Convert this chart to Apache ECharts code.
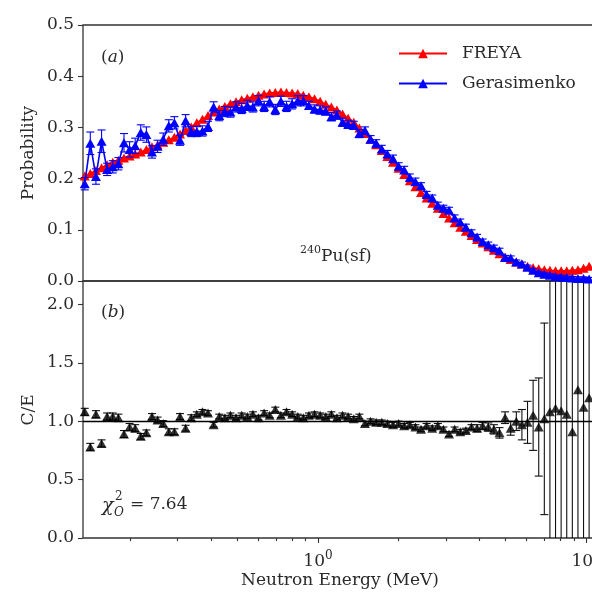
<!DOCTYPE html>
<html><head><meta charset="utf-8">
<script src="https://cdn.jsdelivr.net/npm/echarts@6/dist/echarts.min.js"></script>
<style>html,body{margin:0;padding:0;background:#fff}#c{width:592px;height:598px}</style>
</head><body><div id="c"></div>
<script>
const energy = [0.135,0.1416,0.1486,0.156,0.1636,0.1717,0.1802,0.1891,0.1984,0.2082,
0.2184,0.2292,0.2405,0.2523,0.2648,0.2778,0.2915,0.3059,0.321,0.3368,
0.3534,0.3709,0.3891,0.4083,0.4285,0.4496,0.4718,0.495,0.5194,0.5451,
0.572,0.6002,0.6298,0.6607,0.6934,0.7275,0.7634,0.8011,0.8406,0.882,
0.9254,0.971,1.019,1.069,1.122,1.177,1.235,1.296,1.36,1.427,
1.497,1.571,1.649,1.73,1.815,1.905,1.999,2.097,2.201,2.309,
2.423,2.542,2.668,2.799,2.937,3.082,3.234,3.394,3.561,3.737,
3.921,4.114,4.317,4.529,4.753,4.987,5.233,5.491,5.762,6.046,
6.344,6.657,6.985,7.328,7.69,8.069,8.467,8.884,9.322,9.781,10.26];
const freya = [0.205,0.210,0.216,0.221,0.227,0.232,0.236,0.240,0.244,0.248,
0.252,0.257,0.262,0.266,0.271,0.276,0.281,0.287,0.294,0.301,
0.309,0.316,0.323,0.330,0.336,0.341,0.346,0.350,0.354,0.357,
0.360,0.363,0.365,0.367,0.368,0.369,0.368,0.367,0.366,0.363,
0.360,0.356,0.351,0.345,0.340,0.334,0.326,0.318,0.310,0.299,
0.288,0.277,0.266,0.255,0.243,0.232,0.220,0.208,0.196,0.184,
0.173,0.162,0.152,0.142,0.132,0.123,0.114,0.105,0.097,0.089,
0.081,0.074,0.067,0.060,0.053,0.047,0.042,0.037,0.033,0.029,
0.026,0.024,0.022,0.021,0.020,0.020,0.020,0.021,0.022,0.025,0.029];
const gerasimenko = [0.190,0.269,0.204,0.273,0.218,0.223,0.229,0.270,0.257,0.264,
0.290,0.286,0.252,0.263,0.277,0.303,0.309,0.275,0.313,0.292,
0.292,0.293,0.302,0.340,0.323,0.331,0.330,0.340,0.337,0.343,
0.340,0.352,0.341,0.350,0.335,0.351,0.341,0.346,0.352,0.352,
0.343,0.336,0.334,0.332,0.321,0.324,0.310,0.306,0.304,0.288,
0.294,0.277,0.269,0.258,0.248,0.239,0.224,0.217,0.202,0.194,
0.186,0.169,0.162,0.148,0.142,0.138,0.123,0.115,0.105,0.094,
0.086,0.077,0.071,0.065,0.059,0.046,0.045,0.037,0.033,0.027,
0.021,0.016,0.013,0.011,0.009,0.008,0.007,0.006,0.005,0.005,0.004];
const gerasimenkoErr = [0.012,0.022,0.015,0.022,0.012,0.012,0.012,0.018,0.015,0.015,
0.015,0.015,0.012,0.012,0.012,0.012,0.012,0.010,0.012,0.010,
0.010,0.010,0.010,0.010,0.010,0.010,0.010,0.010,0.010,0.010,
0.010,0.010,0.010,0.010,0.010,0.010,0.010,0.010,0.010,0.010,
0.008,0.008,0.008,0.008,0.008,0.008,0.008,0.008,0.008,0.008,
0.007,0.007,0.007,0.007,0.007,0.007,0.007,0.007,0.007,0.007,
0.006,0.006,0.006,0.006,0.006,0.006,0.006,0.006,0.006,0.006,
0.005,0.005,0.005,0.005,0.005,0.004,0.004,0.004,0.004,0.004,
0.003,0.003,0.003,0.003,0.003,0.003,0.003,0.003,0.003,0.003,0.003];
const ratio = [1.08,0.78,1.06,0.81,1.04,1.04,1.03,0.89,0.95,0.94,
0.87,0.90,1.04,1.01,0.98,0.91,0.91,1.04,0.94,1.03,
1.06,1.08,1.07,0.97,1.04,1.03,1.05,1.03,1.05,1.04,
1.06,1.03,1.07,1.05,1.10,1.05,1.08,1.06,1.04,1.03,
1.05,1.06,1.05,1.04,1.06,1.03,1.05,1.04,1.02,1.04,
0.98,1.00,0.99,0.99,0.98,0.97,0.98,0.96,0.97,0.95,
0.93,0.96,0.94,0.96,0.93,0.89,0.93,0.91,0.92,0.95,
0.94,0.96,0.95,0.93,0.90,1.03,0.94,1.00,0.97,0.99,
1.05,0.95,1.02,1.08,1.11,1.09,1.06,0.91,1.27,1.12,1.20];
const ratioErr = [0.03,0.03,0.03,0.03,0.03,0.03,0.03,0.03,0.03,0.03,
0.025,0.025,0.025,0.025,0.025,0.025,0.025,0.025,0.025,0.025,
0.02,0.02,0.02,0.02,0.02,0.02,0.02,0.02,0.02,0.02,
0.02,0.02,0.02,0.02,0.02,0.02,0.02,0.02,0.02,0.02,
0.02,0.02,0.02,0.02,0.02,0.02,0.02,0.02,0.02,0.02,
0.02,0.02,0.02,0.02,0.02,0.02,0.02,0.02,0.02,0.02,
0.02,0.02,0.02,0.02,0.02,0.02,0.02,0.02,0.02,0.02,
0.03,0.03,0.035,0.04,0.045,0.05,0.06,0.08,0.13,0.18,
0.30,0.42,0.82,5,5,5,5,5,5,5,5];
const ratioTicks = [0, 0.5, 1.0, 1.5, 2.0];
const xMajorTicks = [1, 10];
const xMinorTicks = [0.2,0.3,0.4,0.5,0.6,0.7,0.8,0.9,2,3,4,5,6,7,8,9];
const xMin = 0.133, xMax = 10.7;
const probRange = [0, 0.5], ratioRange = [0, 2.2];

const FONT = 'DejaVu Serif';
const TXT = '#2a2a2a';
const chart = echarts.init(document.getElementById('c'), null, {renderer:'canvas'});

function errRender(color, yLo, yHi, capW) {
  return function (params, api) {
    const x = api.value(0), y = api.value(1), e = api.value(2);
    const lo = Math.max(y - e, yLo), hi = Math.min(y + e, yHi);
    const pHi = api.coord([x, hi]), pLo = api.coord([x, lo]);
    const st = {stroke: color, lineWidth: 1.1};
    const ch = [{type:'line', shape:{x1:pHi[0], y1:pHi[1], x2:pLo[0], y2:pLo[1]}, style: st}];
    if (y + e <= yHi) ch.push({type:'line', shape:{x1:pHi[0]-capW, y1:pHi[1], x2:pHi[0]+capW, y2:pHi[1]}, style: st});
    if (y - e >= yLo) ch.push({type:'line', shape:{x1:pLo[0]-capW, y1:pLo[1], x2:pLo[0]+capW, y2:pLo[1]}, style: st});
    return {type:'group', children: ch};
  };
}

const freyaData = energy.map((e,i)=>[e, freya[i]]);
const gerData = energy.map((e,i)=>[e, gerasimenko[i]]);
const gerErrData = energy.map((e,i)=>[e, gerasimenko[i], gerasimenkoErr[i]]);
const ratioData = energy.map((e,i)=>[e, ratio[i]]);
const ratioErrData = energy.map((e,i)=>[e, ratio[i], ratioErr[i]]);

const labelStyle = {fontFamily: FONT, fontSize: 17, color: TXT};
const axisTickStyle = {color:'#333', width:1.1};

chart.setOption({
  animation: false,
  backgroundColor: '#fff',
  grid: [
    {left: 83, top: 25, width: 511, height: 256, outerBoundsMode: 'none', containLabel: false, show: true, borderColor: '#333', borderWidth: 1.3, backgroundColor: 'transparent'},
    {left: 83, top: 281, width: 511, height: 257, outerBoundsMode: 'none', containLabel: false, show: true, borderColor: '#333', borderWidth: 1.3, backgroundColor: 'transparent'}
  ],
  xAxis: [
    {type:'log', gridIndex:0, min:xMin, max:xMax, axisLine:{show:false}, axisTick:{show:false}, axisLabel:{show:false}, splitLine:{show:false}},
    {type:'log', gridIndex:1, min:xMin, max:xMax, position:'bottom', axisLine:{show:false}, splitLine:{show:false},
      axisTick:{show:true, customValues:xMajorTicks, length:5, lineStyle:axisTickStyle},
      axisLabel:{show:true, customValues:xMajorTicks, margin:12, hideOverlap:false,
        formatter: function(v){ const ex = Math.round(Math.log10(v)); return '{b|10}{s|' + ex + '}'; },
        rich:{b:{fontFamily:FONT, fontSize:17, color:TXT, verticalAlign:'bottom', lineHeight:20}, s:{fontFamily:FONT, fontSize:12, color:TXT, verticalAlign:'top', lineHeight:20}}}},
    {type:'log', gridIndex:1, min:xMin, max:xMax, position:'bottom', offset:0, axisLine:{show:false}, splitLine:{show:false},
      axisTick:{show:true, customValues:xMinorTicks, length:3, lineStyle:axisTickStyle}, axisLabel:{show:false}}
  ],
  yAxis: [
    {type:'value', gridIndex:0, min:probRange[0], max:probRange[1], interval:0.1, axisLine:{show:false}, splitLine:{show:false},
      axisTick:{show:true, length:5, lineStyle:axisTickStyle},
      axisLabel:Object.assign({margin:9, formatter: v => v.toFixed(1)}, labelStyle)},
    {type:'value', gridIndex:1, min:ratioRange[0], max:ratioRange[1], interval:0.5, axisLine:{show:false}, splitLine:{show:false},
      axisTick:{show:true, length:5, lineStyle:axisTickStyle},
      axisLabel:Object.assign({margin:9, showMaxLabel:false, formatter: v => (ratioTicks.indexOf(Math.round(v*10)/10) >= 0 ? v.toFixed(1) : '')}, labelStyle)}
  ],
  legend: {
    data: ['FREYA', 'Gerasimenko'], orient:'vertical', left: 393, top: 40, itemWidth: 48, itemHeight: 12, itemGap: 13,
    textStyle: {fontFamily: FONT, fontSize: 17, color: TXT, padding:[0,0,0,10]}
  },
  series: [
    {name:'FREYA', type:'line', xAxisIndex:0, yAxisIndex:0, data:freyaData, symbol:'triangle', symbolSize:[10,9],
      itemStyle:{color:'#ff0000'}, lineStyle:{color:'#ff0000', width:1.6}, z:2},
    {name:'gerErr', type:'custom', xAxisIndex:0, yAxisIndex:0, data:gerErrData, renderItem: errRender('#0000ff', probRange[0], probRange[1], 4), z:3},
    {name:'Gerasimenko', type:'line', xAxisIndex:0, yAxisIndex:0, data:gerData, symbol:'triangle', symbolSize:[10,9],
      itemStyle:{color:'#0000ff'}, lineStyle:{color:'#0000ff', width:1.6}, z:4},
    {name:'ratioErr', type:'custom', xAxisIndex:1, yAxisIndex:1, data:ratioErrData, renderItem: errRender('#111', ratioRange[0], ratioRange[1], 4), z:3},
    {name:'C/E', type:'scatter', xAxisIndex:1, yAxisIndex:1, data:ratioData, symbol:'triangle', symbolSize:[10,9],
      itemStyle:{color:'#000'}, z:4,
      markLine:{silent:true, symbol:'none', label:{show:false}, lineStyle:{color:'#000', width:1.4, type:'solid'}, data:[{yAxis:1}]}}
  ],
  graphic: [
    {type:'text', x:29, y:153, rotation:Math.PI/2, style:{text:'Probability', font:'17px "DejaVu Serif"', fill:TXT, align:'center', verticalAlign:'middle'}},
    {type:'text', x:29, y:410, rotation:Math.PI/2, style:{text:'C/E', font:'17px "DejaVu Serif"', fill:TXT, align:'center', verticalAlign:'middle'}},
    {type:'text', x:340, y:581, style:{text:'Neutron Energy (MeV)', font:'17px "DejaVu Serif"', fill:TXT, align:'center', verticalAlign:'middle'}},
    {type:'text', x:101, y:58, style:{text:'({i|a})', font:'17px "DejaVu Serif"', fill:TXT, align:'left', verticalAlign:'middle', rich:{i:{fontStyle:'italic', fontFamily:FONT, fontSize:17}}}},
    {type:'text', x:101, y:313, style:{text:'({i|b})', font:'17px "DejaVu Serif"', fill:TXT, align:'left', verticalAlign:'middle', rich:{i:{fontStyle:'italic', fontFamily:FONT, fontSize:17}}}},
    {type:'text', x:300, y:255, style:{text:'{s|240}{b|Pu(sf)}', fill:TXT, align:'left', verticalAlign:'middle',
      rich:{s:{fontFamily:FONT, fontSize:11, verticalAlign:'top', lineHeight:20, fill:TXT}, b:{fontFamily:FONT, fontSize:17, verticalAlign:'bottom', lineHeight:20, fill:TXT}}}},
    {type:'text', x:102, y:506, style:{text:'χ', font:'italic 19px "DejaVu Serif"', fill:TXT, align:'left', verticalAlign:'middle'}},
    {type:'text', x:115, y:497, style:{text:'2', font:'12px "DejaVu Serif"', fill:TXT, align:'left', verticalAlign:'middle'}},
    {type:'text', x:114, y:513, style:{text:'O', font:'italic 12px "DejaVu Serif"', fill:TXT, align:'left', verticalAlign:'middle'}},
    {type:'text', x:130, y:505, style:{text:'= 7.64', font:'17px "DejaVu Serif"', fill:TXT, align:'left', verticalAlign:'middle'}}
  ]
});
</script></body></html>
